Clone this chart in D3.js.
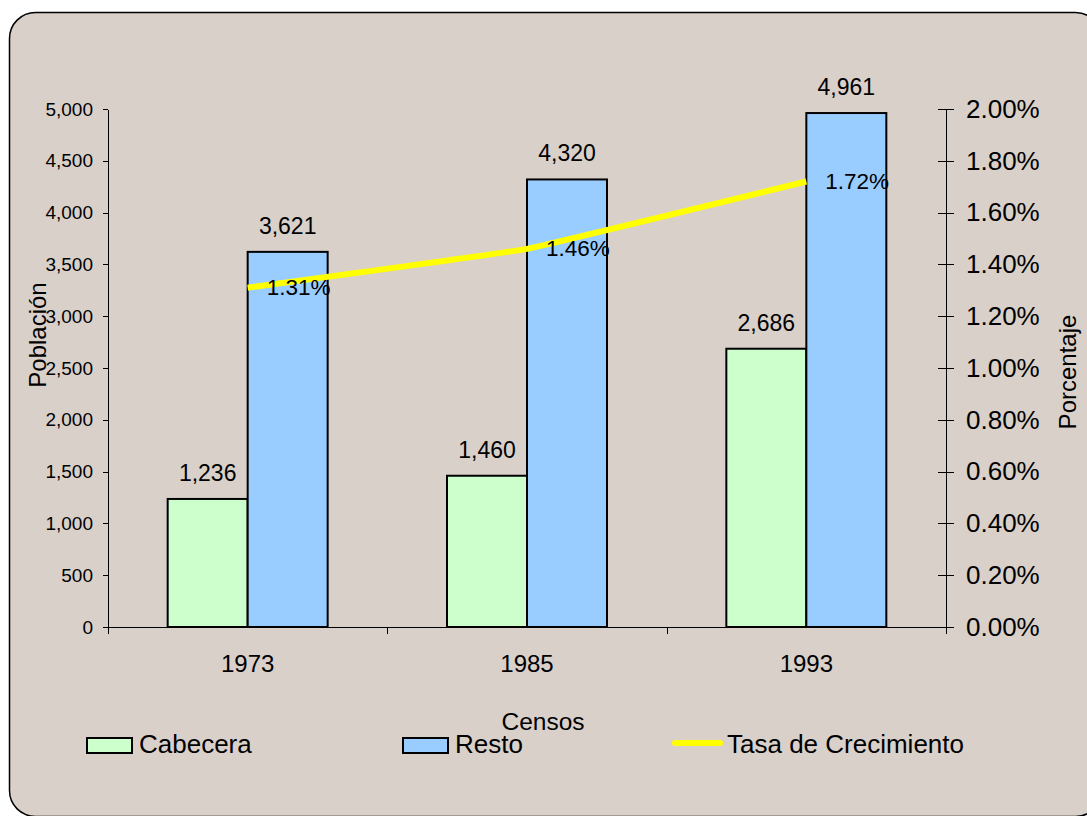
<!DOCTYPE html>
<html>
<head>
<meta charset="utf-8">
<script src="https://cdn.jsdelivr.net/npm/d3@7/dist/d3.min.js"></script>
<style>
  body { margin: 0; background: #fff; }
  svg text { font-family: 'Liberation Sans', Arial, sans-serif; fill: #000; }
</style>
</head>
<body>
<svg id="chart" width="1087" height="816"></svg>
<script>
const years = ['1973', '1985', '1993']
const series = ['Cabecera', 'Resto']
const cabecera = [1236, 1460, 2686]
const resto = [3621, 4320, 4961]
const tasa = [0.0131, 0.0146, 0.0172]
const leftTicks = [0, 500, 1000, 1500, 2000, 2500, 3000, 3500, 4000, 4500, 5000]
const rightTicks = [0, 0.002, 0.004, 0.006, 0.008, 0.01, 0.012, 0.014, 0.016, 0.018, 0.02]
const colors = { Cabecera: '#ccffcc', Resto: '#99ccff', line: '#ffff00' }

const svg = d3.select('#chart')
const margin = { left: 108, right: 141, top: 109, bottom: 189 }
const width = +svg.attr('width')
const height = +svg.attr('height')
const x0 = margin.left
const x1 = width - margin.right
const yTop = margin.top
const yBottom = height - margin.bottom

// panel
svg.append('rect')
  .attr('x', 9.5).attr('y', 12.5)
  .attr('width', 1092).attr('height', 804)
  .attr('rx', 26).attr('ry', 26)
  .attr('fill', '#d9d0ca')
  .attr('stroke', '#000')
  .attr('stroke-width', 1.5)

const xScale = d3.scaleBand().domain(years).range([x0, x1])
const xSeries = d3.scaleBand().domain(series).range([0, xScale.bandwidth()]).paddingOuter(0.746)
const xEdge = d3.scaleLinear().domain([0, years.length]).range([x0, x1])
const yScale = d3.scaleLinear().domain([0, 5000]).range([yBottom, yTop])
const y2Scale = d3.scaleLinear().domain([0, 0.02]).range([yBottom, yTop])

const rows = years.map((y, i) => ({ year: y, Cabecera: cabecera[i], Resto: resto[i], tasa: tasa[i] }))

// bars
const groups = svg.selectAll('g.grp').data(rows)
  .enter().append('g')
  .attr('class', 'grp')
  .attr('transform', d => `translate(${xScale(d.year)},0)`)

groups.selectAll('rect')
  .data(d => series.map(s => ({ key: s, value: d[s] })))
  .enter().append('rect')
  .attr('x', d => xSeries(d.key))
  .attr('y', d => yScale(d.value))
  .attr('width', xSeries.bandwidth())
  .attr('height', d => yBottom - yScale(d.value))
  .attr('fill', d => colors[d.key])
  .attr('stroke', '#000')
  .attr('stroke-width', 2)

groups.selectAll('text.val')
  .data(d => series.map(s => ({ key: s, value: d[s] })))
  .enter().append('text')
  .attr('class', 'val')
  .attr('x', d => xSeries(d.key) + xSeries.bandwidth() / 2)
  .attr('y', d => yScale(d.value) - 18)
  .attr('text-anchor', 'middle')
  .style('font-size', '23px')
  .text(d => d3.format(',')(d.value))

// axes
const leftAxis = svg.append('g')
  .attr('transform', `translate(${x0},0)`)
  .call(d3.axisLeft(yScale).tickValues(leftTicks).tickSize(5).tickSizeOuter(0).tickPadding(10).tickFormat(d3.format(',')))
leftAxis.selectAll('text').style('font-size', '19px')

const rightAxis = svg.append('g')
  .attr('transform', `translate(${x1},0)`)
  .call(d3.axisRight(y2Scale).tickValues(rightTicks).tickSize(8).tickSizeOuter(0).tickPadding(12).tickFormat(d3.format('.2%')))
rightAxis.selectAll('.tick line').attr('x1', -8)
rightAxis.selectAll('text').style('font-size', '26px')

svg.append('g')
  .attr('transform', `translate(0,${yBottom})`)
  .call(d3.axisBottom(xEdge).ticks(years.length).tickSize(7).tickSizeOuter(0).tickFormat(''))

const catAxis = svg.append('g')
  .attr('transform', `translate(0,${yBottom})`)
  .call(d3.axisBottom(xScale).tickSize(0).tickPadding(28))
catAxis.select('.domain').remove()
catAxis.selectAll('text').style('font-size', '24px')

svg.selectAll('.domain, .tick line').attr('stroke', '#000').attr('shape-rendering', 'crispEdges')

// growth line
const line = d3.line()
  .x(d => xScale(d.year) + xScale.bandwidth() / 2)
  .y(d => y2Scale(d.tasa))
  .curve(d3.curveCardinal.tension(0.8))

svg.append('path')
  .datum(rows)
  .attr('d', line)
  .attr('fill', 'none')
  .attr('stroke', colors.line)
  .attr('stroke-width', 6)

svg.selectAll('text.pct').data(rows)
  .enter().append('text')
  .attr('class', 'pct')
  .attr('x', d => xScale(d.year) + xScale.bandwidth() / 2 + 19)
  .attr('y', d => y2Scale(d.tasa))
  .attr('dy', '0.33em')
  .style('font-size', '22.5px')
  .text(d => d3.format('.2%')(d.tasa))

// titles
svg.append('text')
  .attr('transform', 'translate(37,335) rotate(-90)')
  .attr('dy', '0.36em')
  .attr('text-anchor', 'middle')
  .style('font-size', '24px')
  .text('Población')

svg.append('text')
  .attr('transform', 'translate(1067,372) rotate(-90)')
  .attr('dy', '0.36em')
  .attr('text-anchor', 'middle')
  .style('font-size', '24px')
  .text('Porcentaje')

svg.append('text')
  .attr('x', 543).attr('y', 730)
  .attr('text-anchor', 'middle')
  .style('font-size', '24.5px')
  .text('Censos')

// legend
const legendX = [87, 403, 672]
const legendItems = series.concat(['Tasa de Crecimiento'])
const legend = svg.selectAll('g.leg').data(legendItems)
  .enter().append('g')
  .attr('class', 'leg')
  .attr('transform', (d, i) => `translate(${legendX[i]},745)`)

legend.filter((d, i) => i < 2).append('rect')
  .attr('x', 0).attr('y', -7)
  .attr('width', 45).attr('height', 15)
  .attr('fill', d => colors[d])
  .attr('stroke', '#000')
  .attr('stroke-width', 2)

legend.filter((d, i) => i === 2).append('line')
  .attr('x1', 3).attr('x2', 48)
  .attr('y1', -2).attr('y2', -2)
  .attr('stroke', colors.line)
  .attr('stroke-width', 6)
  .attr('stroke-linecap', 'round')

legend.append('text')
  .attr('x', (d, i) => i < 2 ? 52 : 55)
  .attr('y', 8)
  .style('font-size', '26px')
  .text(d => d)
</script>
</body>
</html>
